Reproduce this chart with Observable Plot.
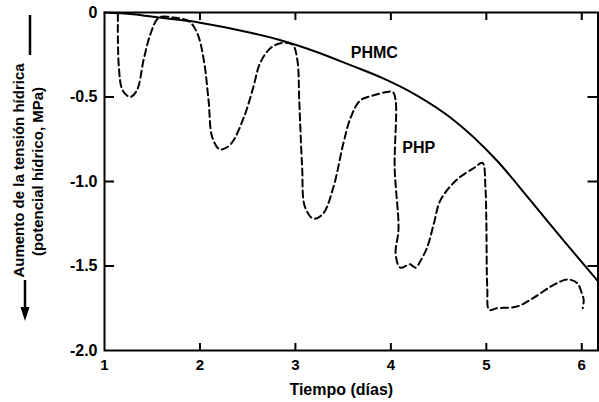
<!DOCTYPE html>
<html>
<head>
<meta charset="utf-8">
<script src="https://cdn.jsdelivr.net/npm/d3@7"></script>
<script src="https://cdn.jsdelivr.net/npm/@observablehq/plot@0.6"></script>
<style>
  html, body { margin: 0; padding: 0; background: white; }
</style>
</head>
<body>
<div id="chart"></div>
<script>
// Data
const phmcDays = [1.0, 1.3, 1.57, 2.0, 2.53, 2.88, 3.23, 3.57, 3.92, 4.27, 4.62, 5.11, 5.46, 5.81, 6.17];
const phmcVals = [0, -0.01, -0.03, -0.06, -0.12, -0.17, -0.235, -0.31, -0.39, -0.49, -0.62, -0.876, -1.11, -1.35, -1.59];

const phpDays = [1.14, 1.15, 1.19, 1.27, 1.34, 1.41, 1.48, 1.57, 1.72, 1.88, 1.97, 2.04, 2.09, 2.13, 2.21, 2.32, 2.46, 2.56, 2.63, 2.74, 2.86, 2.97, 3.02, 3.04, 3.07, 3.10, 3.19, 3.29, 3.40, 3.50, 3.58, 3.68, 3.82, 3.96, 4.02, 4.05, 4.04, 4.08, 4.05, 4.10, 4.20, 4.26, 4.31, 4.38, 4.45, 4.52, 4.69, 4.87, 4.96, 4.99, 5.00, 5.01, 5.03, 5.11, 5.32, 5.49, 5.71, 5.85, 5.95, 6.00, 6.02, 6.01];
const phpVals = [-0.01, -0.32, -0.46, -0.50, -0.46, -0.28, -0.13, -0.03, -0.03, -0.05, -0.12, -0.28, -0.52, -0.74, -0.81, -0.78, -0.62, -0.44, -0.30, -0.21, -0.18, -0.19, -0.28, -0.52, -0.91, -1.15, -1.22, -1.19, -1.03, -0.78, -0.62, -0.52, -0.49, -0.47, -0.47, -0.52, -0.92, -1.28, -1.43, -1.51, -1.49, -1.51, -1.47, -1.39, -1.25, -1.11, -0.99, -0.92, -0.89, -1.03, -1.23, -1.63, -1.76, -1.75, -1.74, -1.69, -1.61, -1.58, -1.60, -1.66, -1.70, -1.75];

const xTicks = [1, 2, 3, 4, 5, 6];
const yTicks = [0, -0.5, -1.0, -1.5, -2.0];
const innerXTicks = [2, 3, 4, 5, 6];
const innerYTicks = [-0.5, -1.0, -1.5];

const seriesLabels = [
  {name: "PHMC", day: 3.58, val: -0.24},
  {name: "PHP", day: 4.12, val: -0.80}
];
const xTitle = "Tiempo (días)";
const yTitle1 = "Aumento de la tensión hídrica";
const yTitle2 = "(potencial hídrico, MPa)";

const phmc = phmcDays.map((d, i) => ({day: d, val: phmcVals[i]}));
const php = phpDays.map((d, i) => ({day: d, val: phpVals[i]}));

const W = 599, H = 402;
const mL = 104, mR = 1.5, mT = 12, mB = 52;
const plotW = W - mL - mR, plotH = H - mT - mB;

const chart = Plot.plot({
  width: W,
  height: H,
  marginLeft: mL,
  marginRight: mR,
  marginTop: mT,
  marginBottom: mB,
  x: {domain: [1, 6.17]},
  y: {domain: [-2, 0]},
  style: {
    fontFamily: "'Liberation Sans', Arial, sans-serif",
    fontWeight: "bold",
    fontSize: "15px",
    background: "white",
    color: "black"
  },
  marks: [
    Plot.axisX(xTicks, {tickSize: 0, tickPadding: 9, tickFormat: d => String(d), label: null, fontSize: 15}),
    Plot.axisY(yTicks, {tickSize: 0, tickPadding: 7, tickFormat: d => d === 0 ? "0" : d.toFixed(1), label: null, fontSize: 16}),
    // inward ticks
    Plot.ruleX(innerXTicks, {x: d => d, insetTop: plotH - 7, strokeWidth: 2}),
    Plot.ruleX(innerXTicks, {x: d => d, insetBottom: plotH - 8, strokeWidth: 2}),
    Plot.ruleY(innerYTicks, {y: d => d, insetRight: plotW - 10, strokeWidth: 2}),
    Plot.ruleY(innerYTicks, {y: d => d, insetLeft: plotW - 10, strokeWidth: 2}),
    Plot.line(phmc, {x: "day", y: "val", curve: "monotone-x", stroke: "black", strokeWidth: 2}),
    Plot.line(php, {x: "day", y: "val", curve: "catmull-rom", stroke: "black", strokeWidth: 2, strokeDasharray: "7,4"}),
    Plot.text(seriesLabels, {x: "day", y: "val", text: "name", textAnchor: "start", fontSize: 16}),
    Plot.frame({stroke: "black", strokeWidth: 2}),
    Plot.text([xTitle], {frameAnchor: "bottom", text: d => d, dx: -10, dy: 44, fontSize: 16}),
    Plot.text([yTitle1], {frameAnchor: "left", textAnchor: "middle", text: d => d, rotate: -90, dx: -85, dy: -11, fontSize: 15}),
    Plot.text([yTitle2], {frameAnchor: "left", textAnchor: "middle", text: d => d, rotate: -90, dx: -66, dy: -10, fontSize: 15})
  ]
});

document.getElementById("chart").appendChild(chart);

// decorative arrow beside the y title
const svg = d3.select(chart);
svg.append("line").attr("x1", 30).attr("x2", 30).attr("y1", 15).attr("y2", 55)
  .attr("stroke", "black").attr("stroke-width", 2.5);
svg.append("line").attr("x1", 25).attr("x2", 25).attr("y1", 280).attr("y2", 310)
  .attr("stroke", "black").attr("stroke-width", 2.5);
svg.append("path").attr("d", "M20.5,307 L29.5,307 L25,321 Z").attr("fill", "black");
</script>
</body>
</html>
